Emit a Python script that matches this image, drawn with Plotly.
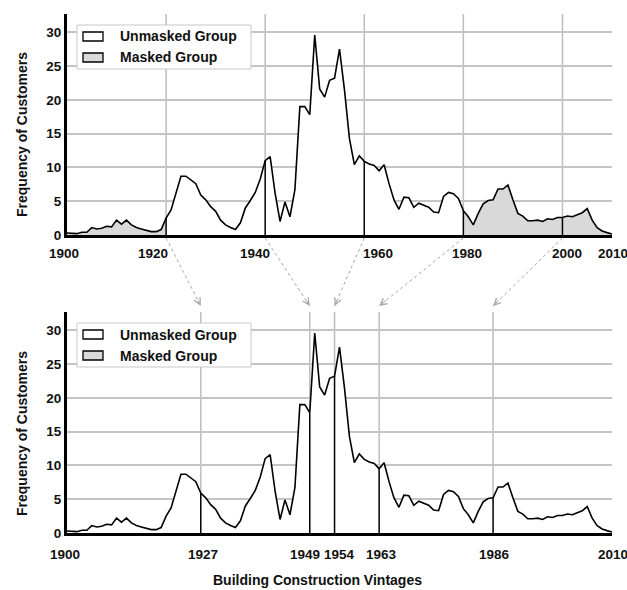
import numpy as np
import plotly.graph_objects as go

# ---------------- data ----------------
years = list(range(1900, 2011))
customers = [
    0.3, 0.3, 0.2, 0.4, 0.4, 1.1, 0.9, 1.0, 1.3, 1.2,      # 1900-1909
    2.2, 1.6, 2.2, 1.5, 1.1, 0.9, 0.7, 0.5, 0.5, 0.8,      # 1910-1919
    2.5, 3.7, 6.2, 8.7, 8.7, 8.1, 7.6, 5.9, 5.2, 4.2,      # 1920-1929
    3.5, 2.2, 1.5, 1.1, 0.8, 1.8, 4.0, 5.1, 6.3, 8.3,      # 1930-1939
    11.0, 11.6, 6.2, 2.0, 4.9, 2.7, 6.7, 19.0, 19.0, 17.8, # 1940-1949
    29.6, 21.6, 20.4, 22.9, 23.2, 27.5, 21.5, 14.3, 10.4, 11.7,  # 1950-1959
    10.9, 10.5, 10.3, 9.5, 10.4, 7.6, 5.2, 3.8, 5.6, 5.5,  # 1960-1969
    4.1, 4.7, 4.4, 4.1, 3.4, 3.3, 5.7, 6.3, 6.1, 5.4,      # 1970-1979
    3.6, 2.7, 1.5, 3.2, 4.6, 5.1, 5.2, 6.8, 6.8, 7.4,      # 1980-1989
    5.2, 3.2, 2.8, 2.1, 2.1, 2.2, 2.0, 2.4, 2.3, 2.6,      # 1990-1999
    2.6, 2.8, 2.7, 3.0, 3.3, 3.9, 2.2, 1.1, 0.6, 0.35,     # 2000-2009
    0.15,                                                  # 2010
]
top_split_years = [1920, 1940, 1960, 1980, 2000]
bottom_split_years = [1927, 1949, 1954, 1963, 1986]
top_tick_years = [1900, 1920, 1940, 1960, 1980, 2000, 2010]
bottom_tick_years = [1900, 1927, 1949, 1954, 1963, 1986, 2010]
masked_ranges = [(1900, 1920), (1980, 2010)]
legend_labels = ["Unmasked Group", "Masked Group"]
y_ticks = [0, 5, 10, 15, 20, 25, 30]
y_title = "Frequency of Customers"
x_title = "Building Construction Vintages"

# ---------------- style ----------------
FONT = "Liberation Sans, Arial, Helvetica, sans-serif"
TXT = "#111111"
GRID = "#c4c4c4"
MASK = "#d9d9d9"
ARROW = "#a6a6a6"
top_label_xshift = [-3, -13, -10, 14, 4, 5, 1]
bottom_label_xshift = [-2, 2, -5, 5, 2, 1, 1]

W, H = 627, 590
ML, MR, MT, MB = 67, 15, 14, 57
plot_h = H - MT - MB
top_dom = [(H - MB - 235) / plot_h, 1.0]
bot_dom = [0.0, (H - MB - 312) / plot_h]
Y_MAX = 32.7

x = np.array(years, dtype=float)
y = np.array(customers, dtype=float)

fig = go.Figure()

for xa, ya, masked in (("x", "y", True), ("x2", "y2", False)):
    # white area under curve (hides gridlines)
    fig.add_trace(go.Scatter(x=x, y=y, xaxis=xa, yaxis=ya, mode="lines",
                             fill="tozeroy", fillcolor="white",
                             line=dict(width=0, color="white"),
                             showlegend=False, hoverinfo="skip"))
    if masked:
        for a, b in masked_ranges:
            m = (x >= a) & (x <= b)
            fig.add_trace(go.Scatter(x=x[m], y=y[m], xaxis=xa, yaxis=ya,
                                     mode="lines", fill="tozeroy",
                                     fillcolor=MASK,
                                     line=dict(width=0, color=MASK),
                                     showlegend=False, hoverinfo="skip"))
    fig.add_trace(go.Scatter(x=x, y=y, xaxis=xa, yaxis=ya, mode="lines",
                             line=dict(color="black", width=1.6),
                             showlegend=False))

shapes = []
annotations = []

# split lines
for xa, ya, splits in (("x", "y", top_split_years), ("x2", "y2", bottom_split_years)):
    for yr in splits:
        shapes.append(dict(type="line", xref=xa, yref=ya + " domain",
                           x0=yr, x1=yr, y0=0, y1=1, layer="below",
                           line=dict(color="#bdbdbd", width=1.5)))
        shapes.append(dict(type="line", xref=xa, yref=ya,
                           x0=yr, x1=yr, y0=0, y1=float(np.interp(yr, x, y)),
                           layer="above", line=dict(color="black", width=1.5)))

# legends (drawn in each subplot's domain coordinates)
dom_w = W - ML - MR
dom_h = 221.0
def dx(px):
    return px / dom_w
def dy(py):
    return 1 - py / dom_h

for xa, ya in (("x", "y"), ("x2", "y2")):
    xr, yr_ = xa + " domain", ya + " domain"
    shapes.append(dict(type="rect", xref=xr, yref=yr_, x0=dx(10), x1=dx(184),
                       y0=dy(55), y1=dy(11), fillcolor="white",
                       line=dict(color="#c8c8c8", width=1), layer="above"))
    for i, (lab, fc) in enumerate(zip(legend_labels, ["white", MASK])):
        top = 18 + i * 21
        shapes.append(dict(type="rect", xref=xr, yref=yr_, x0=dx(16), x1=dx(36),
                           y0=dy(top + 9), y1=dy(top), fillcolor=fc,
                           line=dict(color="black", width=1.3), layer="above"))
        annotations.append(dict(xref=xr, yref=yr_, x=dx(51), y=dy(top + 4.5),
                                text=lab, showarrow=False, xanchor="left",
                                yanchor="middle",
                                font=dict(family=FONT, size=14, color=TXT,
                                          weight="bold")))

label_font = dict(family=FONT, size=13.5, color=TXT, weight="bold")
# x tick labels (offset slightly so that arrows / neighbours do not collide)
for xa, ya, ticks, shifts, below in (
        ("x", "y", top_tick_years, top_label_xshift, 19),
        ("x2", "y2", bottom_tick_years, bottom_label_xshift, 21)):
    for yr, sh in zip(ticks, shifts):
        annotations.append(dict(xref=xa, yref=ya + " domain", x=yr,
                                y=-below / dom_h, text=str(yr),
                                showarrow=False, xshift=sh,
                                xanchor="center", yanchor="middle",
                                font=label_font))

# connecting arrows
tail_y = -3 / dom_h
head_y = -71 / dom_h
for t, b in zip(top_split_years, bottom_split_years):
    shapes.append(dict(type="line", xref="x", yref="y domain",
                       x0=t, y0=tail_y, x1=b, y1=head_y,
                       line=dict(color=ARROW, width=1, dash="dot")))
    annotations.append(dict(xref="x", yref="y domain", axref="x",
                            ayref="y domain", x=b, y=head_y,
                            ax=b + (t - b) * 0.1,
                            ay=head_y + (tail_y - head_y) * 0.1,
                            text="", showarrow=True, arrowhead=5,
                            arrowsize=1.3, arrowwidth=1, arrowcolor=ARROW,
                            standoff=0))

# axis titles
for yc in ((H - MB - 135) / plot_h, (H - MB - 434) / plot_h):
    annotations.append(dict(xref="paper", yref="paper", x=(22 - ML) / dom_w,
                            y=yc, text=y_title, textangle=-90,
                            showarrow=False, xanchor="center", yanchor="middle",
                            font=dict(family=FONT, size=14, color=TXT,
                                      weight="bold")))
annotations.append(dict(xref="paper", yref="paper", x=(317 - ML) / dom_w,
                        y=(H - MB - 580) / plot_h, text=x_title,
                        showarrow=False, xanchor="center", yanchor="middle",
                        font=dict(family=FONT, size=14, color=TXT,
                                  weight="bold")))

yax = dict(range=[0, Y_MAX], tickvals=y_ticks, showgrid=True, gridcolor=GRID,
           gridwidth=1.5, showline=True, linecolor="black", linewidth=3,
           ticks="", zeroline=False, tickfont=label_font, fixedrange=True)
xax = dict(range=[1900, 2010], showgrid=False, showline=True,
           linecolor="black", linewidth=3, ticks="", zeroline=False,
           showticklabels=False, fixedrange=True)

fig.update_layout(
    width=W, height=H,
    margin=dict(l=ML, r=MR, t=MT, b=MB),
    paper_bgcolor="white", plot_bgcolor="white",
    showlegend=False,
    font=dict(family=FONT, color=TXT),
    xaxis=dict(xax, domain=[0, 1], anchor="y", tickvals=top_tick_years),
    yaxis=dict(yax, domain=top_dom, anchor="x"),
    xaxis2=dict(xax, domain=[0, 1], anchor="y2", tickvals=bottom_tick_years),
    yaxis2=dict(yax, domain=bot_dom, anchor="x2"),
    shapes=shapes,
    annotations=annotations,
)

fig.write_html("out.html")
